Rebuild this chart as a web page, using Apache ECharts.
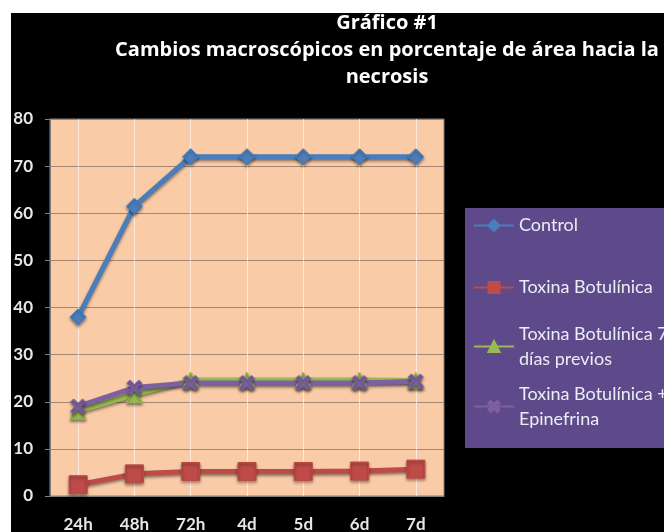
<!DOCTYPE html>
<html>
<head>
<meta charset="utf-8">
<script src="https://cdn.jsdelivr.net/npm/echarts@6/dist/echarts.min.js"></script>
<style>
  html, body { margin: 0; padding: 0; background: #fff; }
  #chart {
    position: absolute;
    left: 11px;
    top: 13px;
    width: 653px;
    height: 519px;
    background: #000;
  }
</style>
</head>
<body>
<div id="chart"></div>
<script>
// datos
const categorias = ['24h', '48h', '72h', '4d', '5d', '6d', '7d']
const control = [38, 61.5, 72, 72, 72, 72, 72]
const toxina = [2.4, 4.7, 5.2, 5.2, 5.2, 5.3, 5.7]
const toxina7dias = [18, 21.5, 24.6, 24.6, 24.6, 24.6, 24.5]
const toxinaEpi = [19, 23, 24, 24, 24, 24, 24.3]
const nombres = ['Control', 'Toxina Botulínica', 'Toxina Botulínica 7 días previos', 'Toxina Botulínica + Epinefrina']

const fuente = 'Lato, "Open Sans", sans-serif'
const sombra = { shadowColor: 'rgba(0,0,0,0.45)', shadowBlur: 3, shadowOffsetY: 2 }
const formaX = 'path://M0,2 L2,0 L5,3 L8,0 L10,2 L7,5 L10,8 L8,10 L5,7 L2,10 L0,8 L3,5 Z'

const serie = (name, data, color, symbol, size) => ({
  name,
  type: 'line',
  data,
  symbol,
  symbolSize: size,
  lineStyle: Object.assign({ color, width: 5 }, sombra),
  itemStyle: Object.assign({ color, borderColor: color, borderWidth: 1 }, sombra),
  emphasis: { disabled: true }
})

// una leyenda por elemento para respetar la separación original
const leyenda = (name, top, dosLineas) => ({
  data: [name],
  left: 462,
  top,
  orient: 'vertical',
  itemWidth: 40,
  itemHeight: 14,
  padding: 0,
  selectedMode: false,
  formatter: (n) => {
    if (n === nombres[2]) return 'Toxina Botulínica 7\ndías previos'
    if (n === nombres[3]) return 'Toxina Botulínica +\nEpinefrina'
    return n
  },
  textStyle: {
    color: '#ececf4',
    fontFamily: fuente,
    fontSize: 18,
    lineHeight: 25,
    padding: dosLineas ? [25, 0, 0, 0] : 0
  }
})

const chart = echarts.init(document.getElementById('chart'))
chart.setOption({
  backgroundColor: '#000',
  animation: false,
  title: {
    text: 'Gráfico #1\nCambios macroscópicos en porcentaje de área hacia la\nnecrosis',
    left: 376,
    top: -3,
    padding: 0,
    textAlign: 'center',
    textStyle: {
      color: '#fff',
      fontFamily: '"Open Sans", sans-serif',
      fontWeight: 'bold',
      fontSize: 20,
      lineHeight: 27
    }
  },
  graphic: [{
    type: 'rect',
    shape: { x: 454, y: 195, width: 210, height: 240 },
    style: { fill: '#5e4a8a' },
    z: 0
  }],
  legend: [
    leyenda(nombres[0], 200, false),
    leyenda(nombres[1], 262, false),
    leyenda(nombres[2], 296, true),
    leyenda(nombres[3], 356, true)
  ],
  grid: {
    left: 39,
    right: 220,
    top: 106,
    bottom: 36,
    outerBoundsMode: 'none',
    show: true,
    backgroundColor: '#f9cba7',
    borderColor: '#808080',
    borderWidth: 1
  },
  xAxis: {
    type: 'category',
    data: categorias,
    axisLine: { lineStyle: { color: '#808080' } },
    axisTick: { show: false },
    axisLabel: {
      color: '#e6e6e6',
      fontFamily: fuente,
      fontWeight: 'bold',
      fontSize: 17,
      margin: 20,
      verticalAlign: 'top'
    },
    splitLine: {
      show: true,
      alignWithLabel: true,
      lineStyle: { color: 'rgba(255,255,255,0.6)', width: 1 }
    }
  },
  yAxis: {
    type: 'value',
    min: 0,
    max: 80,
    interval: 10,
    axisLine: { show: true, lineStyle: { color: '#808080' } },
    axisTick: { show: true, length: 5, lineStyle: { color: '#808080' } },
    axisLabel: {
      color: '#e6e6e6',
      fontFamily: fuente,
      fontWeight: 'bold',
      fontSize: 17,
      margin: 17
    },
    splitLine: { lineStyle: { color: '#a58672', width: 1 } }
  },
  series: [
    serie(nombres[0], control, '#4a7ebb', 'diamond', 16),
    serie(nombres[1], toxina, '#be4b48', 'rect', 18),
    serie(nombres[2], toxina7dias, '#98b954', 'triangle', 16),
    serie(nombres[3], toxinaEpi, '#7d60a0', formaX, 15)
  ]
})
</script>
</body>
</html>
